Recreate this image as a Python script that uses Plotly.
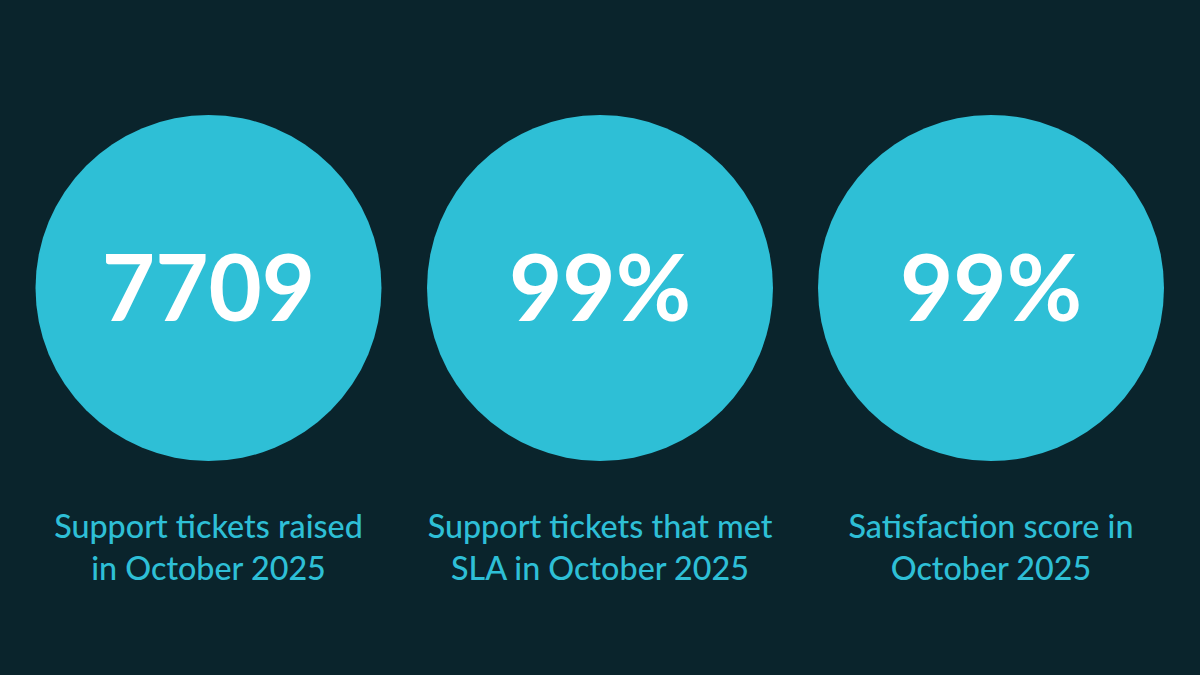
import plotly.graph_objects as go

values = ['7709', '99%', '99%']
labels = ['Support tickets raised<br>in October 2025',
          'Support tickets that met<br>SLA in October 2025',
          'Satisfaction score in<br>October 2025']
centers = [208.5, 600, 991]

bg = '#0a242c'
teal = '#2ebfd6'

fig = go.Figure()
# one big round marker per stat, pixel axes so the marker size is true
fig.add_trace(go.Scatter(x=centers, y=[288, 288, 288],
                         mode='markers',
                         marker=dict(size=346, color=teal, line_width=0),
                         hoverinfo='skip',
                         showlegend=False))
# number text sits a bit low in the circle, so it gets its own trace
fig.add_trace(go.Scatter(x=centers, y=[298, 298, 298],
                         mode='text',
                         text=values,
                         textposition='middle center',
                         textfont=dict(family='Lato', size=92, color='white', weight=700),
                         hoverinfo='skip',
                         cliponaxis=False,
                         showlegend=False))
fig.add_trace(go.Scatter(x=centers, y=[550.5, 550.5, 550.5],
                         mode='text',
                         text=labels,
                         textposition='middle center',
                         textfont=dict(family='Lato', size=32.3, color=teal, weight=500),
                         hoverinfo='skip',
                         cliponaxis=False,
                         showlegend=False))

fig.update_layout(width=1200, height=675,
                  margin=dict(l=0, r=0, t=0, b=0),
                  paper_bgcolor=bg,
                  plot_bgcolor=bg)
fig.update_xaxes(range=[0, 1200], visible=False)
fig.update_yaxes(range=[675, 0], visible=False)
# page default margin would shift everything by 8px
fig.write_html("out.html",
               config={'displayModeBar': False},
               post_script="document.body.style.margin='0';document.body.style.background='#0a242c';")
